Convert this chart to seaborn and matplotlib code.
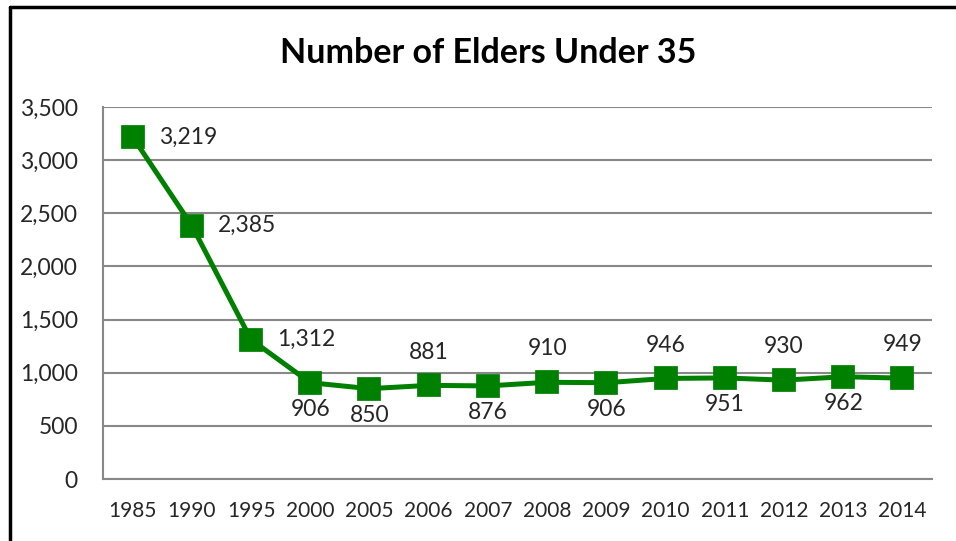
import numpy as np
import pandas as pd
import seaborn as sns
import matplotlib.pyplot as plt
from matplotlib.lines import Line2D
from matplotlib.ticker import FuncFormatter, FixedLocator

years = ["1985", "1990", "1995", "2000", "2005", "2006", "2007",
         "2008", "2009", "2010", "2011", "2012", "2013", "2014"]
elders = [3219, 2385, 1312, 906, 850, 881, 876, 910, 906, 946, 951, 930, 962, 949]
# where each data label sits relative to its point
label_pos = ["right", "right", "right", "below", "below", "above", "below",
             "above", "below", "above", "below", "above", "below", "above"]

df = pd.DataFrame({"year": years, "elders": elders})

sns.set_style("white")
plt.rcParams["font.family"] = ["Lato", "DejaVu Sans"]

fig = plt.figure(figsize=(9.56, 5.41), dpi=100)
ax = fig.add_axes([0.1077, 0.1146, 0.8673, 0.6876])

green = "#008000"
grid_c = "#888888"

sns.pointplot(data=df, x="year", y="elders", color=green, markers="s",
              markersize=14, linewidth=3.6, ax=ax, zorder=3)

ax.set_ylim(0, 3500)
ax.set_xlim(-0.5, len(years) - 0.5)
ax.set_yticks(np.arange(0, 3501, 500))
ax.yaxis.set_major_formatter(FuncFormatter(lambda v, p: f"{int(v):,}"))
ax.yaxis.grid(True, color=grid_c, linewidth=1.5)
ax.set_axisbelow(True)
ax.set_xlabel("")
ax.set_ylabel("")

for s in ["top", "right"]:
    ax.spines[s].set_visible(False)
for s in ["left", "bottom"]:
    ax.spines[s].set_color(grid_c)
    ax.spines[s].set_linewidth(1.5)

ax.tick_params(axis="x", which="major", length=0, labelsize=15, pad=16)
ax.xaxis.set_minor_locator(FixedLocator(np.arange(-0.5, len(years), 1)))
ax.tick_params(axis="x", which="minor", length=6, width=1.5, color=grid_c, direction="out")
ax.tick_params(axis="y", length=6, width=1.5, color=grid_c, direction="out",
               labelsize=16.5, pad=12)

for i, (v, pos) in enumerate(zip(elders, label_pos)):
    txt = f"{v:,}"
    if pos == "right":
        ax.annotate(txt, (i, v), xytext=(19, 0), textcoords="offset points",
                    ha="left", va="center", fontsize=16.5)
    elif pos == "below":
        ax.annotate(txt, (i, v), xytext=(0, -19), textcoords="offset points",
                    ha="center", va="center", fontsize=16.5)
    else:
        ax.annotate(txt, (i, v), xytext=(0, 24), textcoords="offset points",
                    ha="center", va="center", fontsize=16.5)

fig.text(0.511, 0.902, "Number of Elders Under 35", ha="center", va="center",
         fontsize=24.5, fontweight="bold", color="black")

# chart border (left and top edges visible)
fig.add_artist(Line2D([10 / 956, 10 / 956], [0, 1 - 7 / 541], color="black", linewidth=2.5))
fig.add_artist(Line2D([10 / 956, 1], [1 - 7 / 541, 1 - 7 / 541], color="black", linewidth=2.5))

fig.savefig("out.png", dpi=100)
